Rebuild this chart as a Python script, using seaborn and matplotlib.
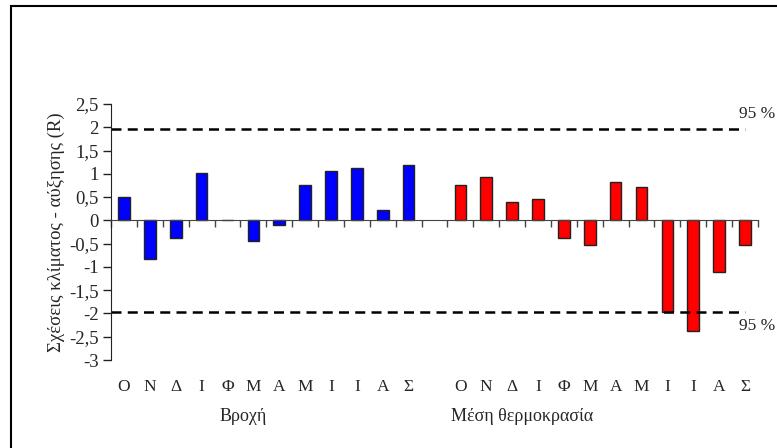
import pandas as pd
import seaborn as sns
import matplotlib.pyplot as plt
from matplotlib.patches import Rectangle
from matplotlib.ticker import FuncFormatter

#data
months = ["Ο", "Ν", "Δ", "Ι", "Φ", "Μ", "Α", "Μ", "Ι", "Ι", "Α", "Σ"]
rain = [0.50, -0.82, -0.38, 1.02, 0.0, -0.44, -0.10, 0.75, 1.07, 1.13, 0.23, 1.18]
temp = [0.77, 0.94, 0.39, 0.45, -0.38, -0.52, 0.83, 0.72, -1.97, -2.38, -1.10, -0.54]
groups = ["Βροχή", "Μέση θερμοκρασία"]
conf95 = 1.96

#positions: 12 rain months, one empty slot, 12 temperature months
rain_pos = list(range(12))
temp_pos = list(range(13, 25))
df = pd.DataFrame({
    "pos": rain_pos + temp_pos,
    "value": rain + temp,
    "group": [groups[0]] * 12 + [groups[1]] * 12,
})

sns.set_style("white")
plt.rcParams["font.family"] = ["Liberation Serif", "DejaVu Serif"]

fig = plt.figure(figsize=(7.77, 4.48), dpi=100)
ax = fig.add_axes([111 / 777, 1 - 360 / 448, (758 - 111) / 777, (360 - 104) / 448])

sns.barplot(data=df, x="pos", y="value", hue="group", native_scale=True, dodge=False,
            palette={groups[0]: "#0000FF", groups[1]: "#FF0000"}, saturation=1, width=0.45,
            edgecolor="#222222", linewidth=1, errorbar=None, legend=False, ax=ax)

ax.set_xlim(-0.5, 24.5)
ax.set_ylim(-3, 2.5)
ax.set_yticks([-3 + 0.5 * i for i in range(12)])
ax.yaxis.set_major_formatter(FuncFormatter(lambda v, p: f"{v:g}".replace(".", ",")))
ax.tick_params(axis="y", direction="out", length=6, width=1, pad=3, labelsize=13.5,
               left=True, color="#222222")

#x axis sits at zero with ticks between the months
ax.spines["bottom"].set_position(("data", 0))
ax.spines["bottom"].set_color("#444444")
ax.spines["left"].set_color("#222222")
ax.spines["top"].set_visible(False)
ax.spines["right"].set_visible(False)
ax.set_xticks([i - 0.5 for i in range(26)])
ax.set_xticklabels([])
ax.tick_params(axis="x", direction="out", length=5, width=1, bottom=True, color="#444444")
ax.set_xlabel("")
ax.set_ylabel("Σχέσεις κλίματος - αύξησης (R)", fontsize=13.5, labelpad=3)

#95 % confidence limits
ax.hlines([conf95, -conf95], -0.5, 24, colors="black", linestyles=(0, (4, 2.5)), linewidth=1.8)
ftrans = fig.transFigure
ax.text(775 / 777, 1 - 114 / 448, "95 %", transform=ftrans, fontsize=12.5, ha="right", va="center")
ax.text(775 / 777, 1 - 326 / 448, "95 %", transform=ftrans, fontsize=12.5, ha="right", va="center")

#month letters and group names under the plot
trans = ax.get_xaxis_transform()
for p, m in zip(rain_pos + temp_pos, months + months):
    ax.text(p, -0.105, m, transform=trans, ha="center", va="center", fontsize=12.5)
ax.text(4.6, -0.22, groups[0], transform=trans, ha="center", va="center", fontsize=13)
ax.text(15.4, -0.22, groups[1], transform=trans, ha="center", va="center", fontsize=13)

#outer frame, cut off at the right and bottom like the original
fig.add_artist(Rectangle((10.5 / 777, -0.1), 2, 1 - 6 / 448 + 0.1, transform=fig.transFigure,
                         fill=False, edgecolor="black", linewidth=1.5))

fig.savefig("out.png", dpi=100)
